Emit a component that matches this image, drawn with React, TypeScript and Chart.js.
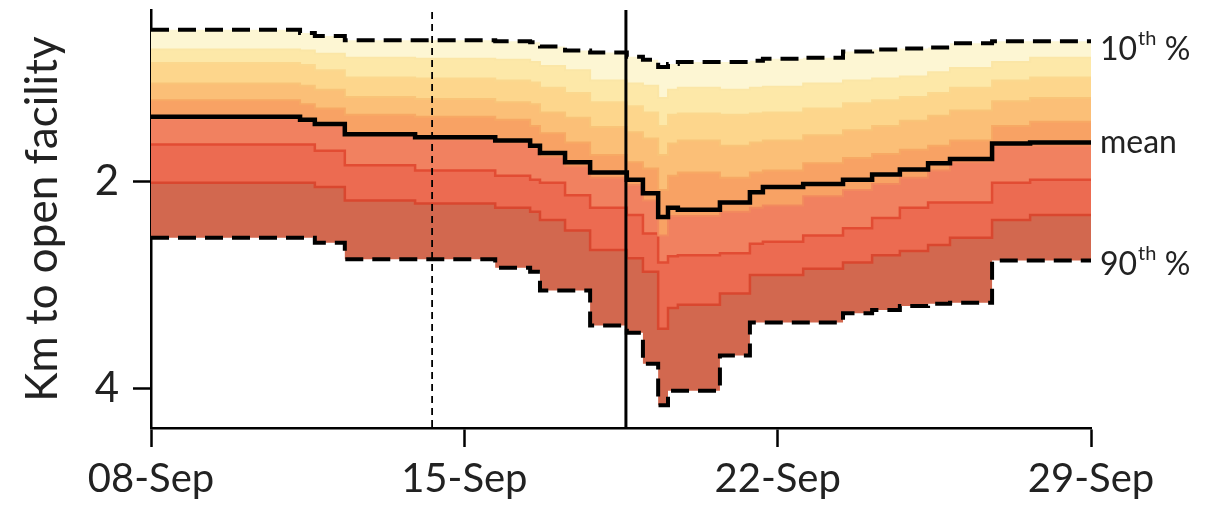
import React, { useEffect, useRef } from 'react';
import { Chart, registerables } from 'chart.js';

Chart.register(...registerables);

// Time in days after 08-Sep (00:00); each value holds until the next time
const days = [0, 3.33, 3.66, 4.33, 5.9, 7.69, 8.47, 8.69, 9.25, 9.81, 10.63, 10.99, 11.33, 11.55, 11.77, 12.71, 13.38, 13.67, 14.57, 15.46, 16.11, 16.73, 17.36, 17.85, 18.79, 19.64, 21];

// Km to open facility, percentiles and mean
const p10 = [0.53, 0.56, 0.59, 0.63, 0.63, 0.64, 0.65, 0.69, 0.73, 0.75, 0.79, 0.82, 0.89, 0.86, 0.84, 0.84, 0.83, 0.81, 0.80, 0.74, 0.72, 0.71, 0.70, 0.66, 0.64, 0.64, 0.64];
const p20 = [0.72, 0.73, 0.76, 0.80, 0.81, 0.82, 0.84, 0.88, 0.92, 1.02, 1.05, 1.07, 1.19, 1.11, 1.09, 1.11, 1.09, 1.08, 1.05, 1.02, 1.00, 0.98, 0.94, 0.90, 0.84, 0.80, 0.80];
const p30 = [0.85, 0.87, 0.92, 0.99, 1.00, 1.02, 1.04, 1.09, 1.14, 1.23, 1.27, 1.33, 1.46, 1.35, 1.34, 1.35, 1.34, 1.33, 1.29, 1.24, 1.21, 1.18, 1.14, 1.09, 1.02, 0.99, 0.99];
const p40 = [1.05, 1.07, 1.11, 1.18, 1.20, 1.23, 1.25, 1.33, 1.38, 1.47, 1.52, 1.58, 1.74, 1.63, 1.60, 1.65, 1.62, 1.60, 1.55, 1.50, 1.46, 1.41, 1.36, 1.31, 1.22, 1.19, 1.19];
const p50 = [1.21, 1.25, 1.29, 1.35, 1.37, 1.40, 1.46, 1.53, 1.62, 1.74, 1.81, 1.87, 2.08, 1.94, 1.91, 1.96, 1.91, 1.89, 1.82, 1.77, 1.73, 1.69, 1.65, 1.60, 1.46, 1.42, 1.42];
const p60 = [1.39, 1.42, 1.46, 1.56, 1.59, 1.62, 1.67, 1.76, 1.85, 1.96, 2.03, 2.18, 2.52, 2.33, 2.33, 2.29, 2.25, 2.23, 2.14, 2.08, 2.02, 1.96, 1.89, 1.81, 1.65, 1.65, 1.65];
const p70 = [1.64, 1.64, 1.70, 1.84, 1.89, 1.94, 1.98, 2.01, 2.13, 2.25, 2.32, 2.50, 2.78, 2.72, 2.71, 2.69, 2.60, 2.58, 2.52, 2.45, 2.35, 2.25, 2.20, 2.20, 2.01, 1.98, 1.98];
const p80 = [2.01, 2.01, 2.05, 2.18, 2.21, 2.25, 2.29, 2.37, 2.47, 2.66, 2.74, 2.87, 3.42, 3.22, 3.19, 3.08, 2.90, 2.90, 2.84, 2.78, 2.71, 2.67, 2.61, 2.54, 2.37, 2.32, 2.32];
const p90 = [2.54, 2.54, 2.59, 2.75, 2.75, 2.83, 2.87, 3.05, 3.05, 3.39, 3.46, 3.76, 4.16, 4.02, 4.02, 3.68, 3.36, 3.36, 3.36, 3.27, 3.24, 3.20, 3.18, 3.17, 2.76, 2.76, 2.76];
const meanKm = [1.37, 1.40, 1.44, 1.54, 1.57, 1.60, 1.65, 1.72, 1.81, 1.91, 1.98, 2.11, 2.34, 2.25, 2.27, 2.20, 2.10, 2.05, 2.02, 1.98, 1.93, 1.88, 1.82, 1.78, 1.63, 1.62, 1.62];

// Axis ticks
const xTickDays = [0, 7, 14, 21];
const xTickLabels = ['08-Sep', '15-Sep', '22-Sep', '29-Sep'];
const yTickValues = [2, 4];
const yTickLabels = ['2', '4'];

// Event markers (days after 08-Sep)
const dashedEventDay = 6.28;
const solidEventDay = 10.61;

const Y_MIN = 0.338;
const Y_MAX = 4.381;

const bandFills = ['#fdf6d3', '#fde8a8', '#fdd68c', '#fbbf77', '#f8a264', '#f18160', '#ec6b51', '#d2684f'];
const bandLines = ['#fbe6a6', '#fbd88e', '#f9c478', '#f7a964', '#f28a5e', '#e24c33', '#d9472f'];

const FONT = 'Lato, "Open Sans", sans-serif';

const toPts = (arr: number[]) => days.map((d, i) => ({ x: d, y: arr[i] }));

export default function App() {
  const ref = useRef<HTMLCanvasElement | null>(null);

  useEffect(() => {
    if (!ref.current) return;
    const pct = [p20, p30, p40, p50, p60, p70, p80];
    const datasets: any[] = [
      {
        label: 'mean',
        data: toPts(meanKm),
        borderColor: '#000',
        borderWidth: 4.5,
        stepped: 'before',
        pointRadius: 0,
        fill: false,
      },
      {
        label: 'p10',
        data: toPts(p10),
        borderColor: '#000',
        borderWidth: 4,
        borderDash: [18, 9],
        stepped: 'before',
        pointRadius: 0,
        fill: false,
      },
    ];
    pct.forEach((arr, i) => {
      datasets.push({
        label: 'p' + (20 + i * 10),
        data: toPts(arr),
        borderColor: bandLines[i],
        borderWidth: i >= 5 ? 2.5 : 2,
        stepped: 'before',
        pointRadius: 0,
        fill: { target: datasets.length - 1 },
        backgroundColor: bandFills[i],
      });
    });
    datasets.push({
      label: 'p90',
      data: toPts(p90),
      borderColor: '#000',
      borderWidth: 4,
      borderDash: [18, 9],
      stepped: 'before',
      pointRadius: 0,
      fill: { target: datasets.length - 1 },
      backgroundColor: bandFills[7],
    });

    const overlay = {
      id: 'overlay',
      afterDatasetsDraw(chart: any) {
        const { ctx, chartArea, scales } = chart;
        const xs = scales.x;
        ctx.save();
        let px = xs.getPixelForValue(dashedEventDay);
        ctx.strokeStyle = '#000';
        ctx.lineWidth = 1.8;
        ctx.setLineDash([7, 5]);
        ctx.beginPath();
        ctx.moveTo(px, chartArea.top + 2);
        ctx.lineTo(px, chartArea.bottom);
        ctx.stroke();
        px = xs.getPixelForValue(solidEventDay);
        ctx.setLineDash([]);
        ctx.lineWidth = 3;
        ctx.beginPath();
        ctx.moveTo(px, chartArea.top);
        ctx.lineTo(px, chartArea.bottom);
        ctx.stroke();
        ctx.restore();
      },
      afterDraw(chart: any) {
        const { ctx, chartArea, scales } = chart;
        const ys = scales.y;
        const x0 = chartArea.right + 9;
        const items = [
          { v: p10[p10.length - 1], main: '10', sup: 'th', tail: ' %', dy: 8 },
          { v: meanKm[meanKm.length - 1], main: 'mean', sup: '', tail: '', dy: 0 },
          { v: p90[p90.length - 1], main: '90', sup: 'th', tail: ' %', dy: 4 },
        ];
        ctx.save();
        ctx.fillStyle = '#222';
        ctx.textBaseline = 'middle';
        ctx.textAlign = 'left';
        items.forEach((it) => {
          const y = ys.getPixelForValue(it.v) + it.dy;
          let x = x0;
          ctx.font = `32px ${FONT}`;
          ctx.fillText(it.main, x, y);
          x += ctx.measureText(it.main).width;
          if (it.sup) {
            ctx.font = `20px ${FONT}`;
            ctx.fillText(it.sup, x + 1, y - 11);
            x += ctx.measureText(it.sup).width + 1;
          }
          if (it.tail) {
            ctx.font = `32px ${FONT}`;
            ctx.fillText(it.tail, x, y);
          }
        });
        ctx.restore();
      },
    };

    const chart = new Chart(ref.current, {
      type: 'line',
      data: { datasets },
      plugins: [overlay],
      options: {
        animation: false,
        responsive: true,
        maintainAspectRatio: false,
        layout: { padding: { left: 0, right: 117, top: 10, bottom: 0 } },
        plugins: {
          legend: { display: false },
          tooltip: { enabled: false },
          filler: { propagate: false },
        },
        elements: { line: { tension: 0 } },
        scales: {
          x: {
            type: 'linear',
            min: 0,
            max: 21,
            afterBuildTicks: (s: any) => {
              s.ticks = xTickDays.map((v) => ({ value: v }));
            },
            afterFit: (s: any) => {
              s.height = 87;
              s.paddingLeft = 0;
              s.paddingRight = 0;
            },
            ticks: {
              autoSkip: false,
              maxRotation: 0,
              padding: 8,
              color: '#222',
              font: { family: FONT, size: 40 },
              callback: (v: any) => {
                const i = xTickDays.indexOf(Number(v));
                return i >= 0 ? xTickLabels[i] : '';
              },
            },
            grid: {
              display: true,
              drawOnChartArea: false,
              drawTicks: true,
              tickLength: 19,
              tickWidth: 2.5,
              tickColor: '#000',
            },
            border: { display: true, color: '#000', width: 2.5 },
          },
          y: {
            type: 'linear',
            reverse: true,
            min: Y_MIN,
            max: Y_MAX,
            afterBuildTicks: (s: any) => {
              s.ticks = yTickValues.map((v) => ({ value: v }));
            },
            afterFit: (s: any) => {
              s.width = 151;
              s.paddingTop = 0;
              s.paddingBottom = 0;
            },
            ticks: {
              autoSkip: false,
              padding: 14,
              color: '#222',
              font: { family: FONT, size: 42 },
              callback: (v: any) => {
                const i = yTickValues.indexOf(Number(v));
                return i >= 0 ? yTickLabels[i] : '';
              },
            },
            title: {
              display: true,
              text: 'Km to open facility',
              color: '#222',
              font: { family: FONT, size: 44 },
              padding: { top: 16, bottom: 0 },
            },
            grid: {
              display: true,
              drawOnChartArea: false,
              drawTicks: true,
              tickLength: 18,
              tickWidth: 2.5,
              tickColor: '#000',
            },
            border: { display: true, color: '#000', width: 2.5 },
          },
        },
      },
    });
    return () => chart.destroy();
  }, []);

  return (
    <div style={{ position: 'fixed', left: 0, top: 0, width: 1208, height: 515, background: '#fff' }}>
      <canvas ref={ref} />
    </div>
  );
}
